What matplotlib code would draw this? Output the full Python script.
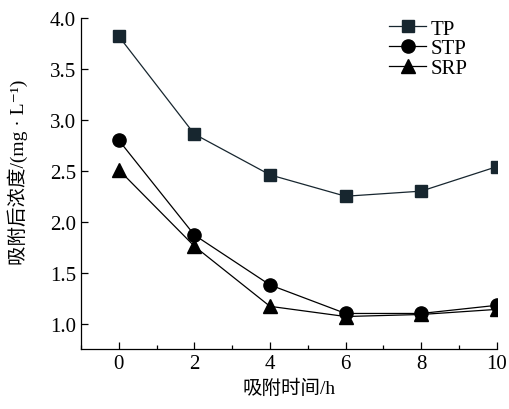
import matplotlib
matplotlib.use('Agg')
import matplotlib.pyplot as plt
from matplotlib.ticker import MultipleLocator

plt.rcParams['font.family'] = ['Liberation Serif', 'Noto Sans CJK SC', 'DejaVu Serif']
plt.rcParams['font.size'] = 15

# data
t = [0, 2, 4, 6, 8, 10]
tp = [3.82, 2.86, 2.46, 2.25, 2.30, 2.54]
stp = [2.80, 1.87, 1.38, 1.10, 1.10, 1.18]
srp = [2.51, 1.76, 1.17, 1.07, 1.09, 1.14]

fig = plt.figure(figsize=(5.09, 4.10), dpi=100)
ax = fig.add_axes([0.159, 0.146, 0.817, 0.808])

ax.plot(t, tp, color='#17262f', marker='s', ms=8.5, lw=0.9, label='TP')
ax.plot(t, stp, color='black', marker='o', ms=9.5, lw=0.9, label='STP')
ax.plot(t, srp, color='black', marker='^', ms=10, lw=0.9, label='SRP')

ax.set_xlim(-1, 10)
ax.set_ylim(0.75, 4.0)
ax.xaxis.set_major_locator(MultipleLocator(2))
ax.xaxis.set_minor_locator(MultipleLocator(1))
ax.yaxis.set_major_locator(MultipleLocator(0.5))
ax.yaxis.set_major_formatter(plt.FormatStrFormatter('%.1f'))
ax.tick_params(axis='both', which='major', direction='in', length=5, width=0.9)
ax.tick_params(axis='x', which='minor', direction='in', length=3, width=0.9)
ax.spines['top'].set_visible(False)
ax.spines['right'].set_visible(False)
ax.spines['left'].set_linewidth(0.9)
ax.spines['bottom'].set_linewidth(0.9)

ax.set_xlabel('吸附时间/h', fontsize=14, labelpad=4)
ax.set_ylabel('吸附后浓度/(mg · L⁻¹)', fontsize=14)
ax.yaxis.set_label_coords(-0.127, 0.538)

ax.legend(loc='upper right', bbox_to_anchor=(0.965, 1.04), frameon=False,
          handlelength=1.8, handletextpad=0.2, labelspacing=0.0, borderpad=0.2)

fig.savefig('out.png', dpi=100)
